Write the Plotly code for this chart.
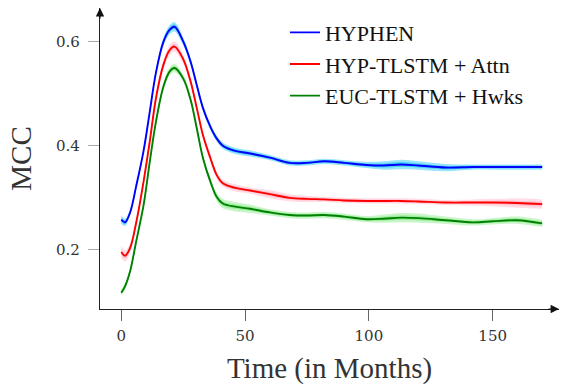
import plotly.graph_objects as go

months = [0, 1.5, 3.5, 6, 9, 11.5, 14, 17, 19.5, 21.5, 25, 28, 30.5, 33, 36, 38.5, 41,
          46, 52, 60, 68, 75, 82, 90, 99, 106, 113, 120, 131, 142, 150, 160, 170]

hyphen = [0.258, 0.253, 0.271, 0.322, 0.390, 0.465, 0.540, 0.599, 0.622, 0.628,
          0.600, 0.561, 0.516, 0.472, 0.436, 0.414, 0.400, 0.390, 0.385, 0.377,
          0.367, 0.367, 0.370, 0.367, 0.363, 0.362, 0.364, 0.362, 0.358, 0.359,
          0.359, 0.359, 0.359]
hyphen_std = [0.008, 0.007, 0.006, 0.006, 0.006, 0.006, 0.007, 0.008, 0.009, 0.009,
              0.008, 0.007, 0.006, 0.006, 0.006, 0.006, 0.006, 0.006, 0.006, 0.005,
              0.005, 0.005, 0.005, 0.005, 0.006, 0.008, 0.009, 0.008, 0.007, 0.005,
              0.005, 0.005, 0.005]

hyp_attn = [0.196, 0.189, 0.203, 0.252, 0.331, 0.408, 0.491, 0.555, 0.583, 0.590,
            0.566, 0.523, 0.472, 0.420, 0.376, 0.344, 0.328, 0.319, 0.314, 0.307,
            0.300, 0.298, 0.297, 0.295, 0.294, 0.294, 0.294, 0.293, 0.291, 0.291,
            0.291, 0.290, 0.288]
hyp_attn_std = [0.012, 0.011, 0.009, 0.008, 0.007, 0.007, 0.008, 0.009, 0.010, 0.010,
                0.009, 0.008, 0.007, 0.007, 0.007, 0.007, 0.007, 0.007, 0.006, 0.008,
                0.007, 0.006, 0.005, 0.005, 0.005, 0.005, 0.005, 0.005, 0.005, 0.006,
                0.007, 0.009, 0.009]

euc_hwks = [0.118, 0.130, 0.158, 0.216, 0.286, 0.369, 0.446, 0.513, 0.542, 0.549,
            0.529, 0.488, 0.433, 0.376, 0.331, 0.302, 0.289, 0.283, 0.279, 0.272,
            0.267, 0.266, 0.267, 0.264, 0.259, 0.260, 0.262, 0.261, 0.257, 0.253,
            0.255, 0.257, 0.251]
euc_hwks_std = [0.006, 0.006, 0.006, 0.006, 0.006, 0.006, 0.006, 0.007, 0.008, 0.008,
                0.007, 0.006, 0.006, 0.006, 0.007, 0.008, 0.009, 0.009, 0.008, 0.006,
                0.006, 0.006, 0.006, 0.006, 0.006, 0.008, 0.009, 0.009, 0.007, 0.006,
                0.006, 0.007, 0.007]

series = [
    ("HYPHEN", hyphen, hyphen_std, "#0000ff", "0,191,240"),
    ("HYP-TLSTM + Attn", hyp_attn, hyp_attn_std, "#ff0000", "255,170,190"),
    ("EUC-TLSTM + Hwks", euc_hwks, euc_hwks_std, "#008000", "120,230,120"),
]

fig = go.Figure()
line_kw = dict(shape="spline", smoothing=1.0, width=0)
for name, vals, std, col, band in series:
    for frac, alpha in [(1.0, 0.40), (0.5, 0.55)]:
        up = [v + frac * s for v, s in zip(vals, std)]
        lo = [v - frac * s for v, s in zip(vals, std)]
        fig.add_trace(go.Scatter(x=months, y=up, mode="lines", line=line_kw,
                                 showlegend=False, hoverinfo="skip"))
        fig.add_trace(go.Scatter(x=months, y=lo, mode="lines", line=line_kw,
                                 fill="tonexty", fillcolor=f"rgba({band},{alpha})",
                                 showlegend=False, hoverinfo="skip"))
for name, vals, std, col, band in series:
    fig.add_trace(go.Scatter(x=months, y=vals, mode="lines", name=name,
                             line=dict(color=col, width=1.9, shape="spline", smoothing=1.0)))

serif = "Liberation Serif"
tick_font = dict(family="DejaVu Serif", size=15, color="#333")

fig.update_layout(
    width=561, height=385,
    margin=dict(l=100, r=2, t=8, b=76, autoexpand=False),
    paper_bgcolor="white", plot_bgcolor="white",
    showlegend=True,
    legend=dict(x=0.403, y=0.988, xanchor="left", yanchor="top",
                traceorder="normal",
                bgcolor="rgba(0,0,0,0)", borderwidth=0,
                font=dict(family=serif, size=22, color="#111"),
                tracegroupgap=0),
    xaxis=dict(range=[-8.6, 176.8], tickvals=[0, 50, 100, 150],
               showline=True, linecolor="#222", linewidth=1.2,
               ticks="outside", ticklen=11, tickcolor="#666", tickwidth=1,
               showgrid=False, zeroline=False, tickfont=tick_font,
               ticklabelstandoff=2, automargin=True,
               title=dict(text="Time (in Months)", font=dict(family=serif, size=29, color="#333"),
                          standoff=15)),
    yaxis=dict(range=[0.0868, 0.664], tickvals=[0.2, 0.4, 0.6], tickformat=".1f",
               showline=True, linecolor="#222", linewidth=1.2,
               ticks="outside", ticklen=11, tickcolor="#aaa", tickwidth=1,
               showgrid=False, zeroline=False, tickfont=tick_font,
               ticklabelstandoff=5, automargin=True,
               title=dict(text="MCC", font=dict(family=serif, size=29, color="#333"),
                          standoff=15)),
)

# axis arrow heads
fig.add_annotation(x=0, y=1, xref="paper", yref="paper", ax=0, ay=12, text="",
                   showarrow=True, arrowhead=2, arrowsize=1.4, arrowwidth=1.2, arrowcolor="#111")
fig.add_annotation(x=1, y=0, xref="paper", yref="paper", ax=-12, ay=0, text="",
                   showarrow=True, arrowhead=2, arrowsize=1.4, arrowwidth=1.2, arrowcolor="#111")

fig.write_html("out.html", config={"displayModeBar": False},
               post_script="document.body.style.margin='0';")
